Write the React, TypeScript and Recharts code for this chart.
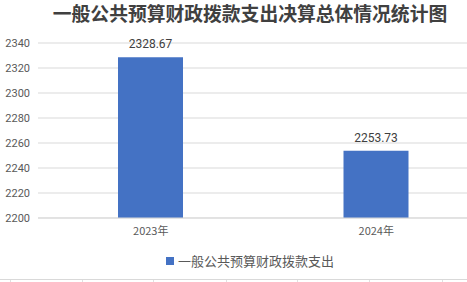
import React from "react";
import { BarChart, Bar, XAxis, YAxis, CartesianGrid, LabelList } from "recharts";

const title = "一般公共预算财政拨款支出决算总体情况统计图";
const seriesName = "一般公共预算财政拨款支出";
const categories = ["2023年", "2024年"];
const values = [2328.67, 2253.73];
const yTicks = [2200, 2220, 2240, 2260, 2280, 2300, 2320, 2340];

const data = categories.map((c, i) => ({ name: c, value: values[i] }));

const FONT = "'Noto Sans CJK SC', 'Noto Sans', sans-serif";

export default function App() {
  return (
    <div
      style={{
        position: "absolute",
        left: 0,
        top: 0,
        width: 467,
        height: 282,
        overflow: "hidden",
        background: "#fff",
        fontFamily: FONT,
      }}
    >
      <div
        style={{
          position: "absolute",
          left: 33,
          top: 0,
          width: 434,
          textAlign: "center",
          fontSize: 18.8,
          fontWeight: 700,
          color: "#404040",
          lineHeight: "25px",
          whiteSpace: "nowrap",
        }}
      >
        {title}
      </div>
      <div style={{ position: "absolute", left: 0, top: 0 }}>
        <BarChart
          width={500}
          height={282}
          data={data}
          margin={{ top: 43, right: 11, bottom: 0, left: 0 }}
          barCategoryGap={0}
        >
          <CartesianGrid vertical={false} stroke="#d9d9d9" strokeWidth={1} />
          <XAxis
            dataKey="name"
            height={64}
            tickSize={0}
            tickMargin={9}
            axisLine={{ stroke: "#d9d9d9" }}
            tick={{ fontSize: 11, fill: "#595959", fontFamily: FONT }}
          />
          <YAxis
            width={38}
            domain={[2200, 2340]}
            ticks={yTicks}
            interval={0}
            tickSize={0}
            tickMargin={8}
            axisLine={false}
            tick={{ fontSize: 11, fill: "#595959", fontFamily: "Roboto, sans-serif" }}
          />
          <Bar dataKey="value" name={seriesName} fill="#4472C4" barSize={65} isAnimationActive={false}>
            <LabelList
              dataKey="value"
              position="top"
              offset={9}
              style={{ fontSize: 12, fill: "#404040", fontFamily: "Roboto, sans-serif" }}
            />
          </Bar>
        </BarChart>
      </div>
      <div
        style={{
          position: "absolute",
          left: 33,
          top: 252,
          width: 434,
          display: "flex",
          justifyContent: "center",
          alignItems: "center",
          fontSize: 13,
          color: "#595959",
          lineHeight: "18px",
        }}
      >
        <span style={{ display: "inline-block", width: 8, height: 8, background: "#4472C4", marginRight: 4 }} />
        <span>{seriesName}</span>
      </div>
      <div
        style={{
          position: "absolute",
          left: 0,
          top: 279,
          width: 467,
          height: 0,
          borderTop: "1px solid #d9d9d9",
        }}
      />
      {[10, 82, 153, 226, 297, 369, 442].map((x) => (
        <div
          key={x}
          style={{ position: "absolute", left: x, top: 280, width: 1, height: 2, background: "#e0e0e0" }}
        />
      ))}
    </div>
  );
}
